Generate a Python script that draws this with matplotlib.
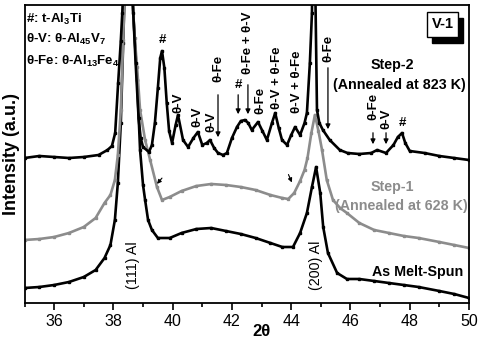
import matplotlib
matplotlib.use("Agg")
import matplotlib.pyplot as plt
from matplotlib.patches import Rectangle

plt.rcParams['font.family'] = ['Liberation Sans', 'DejaVu Sans']
plt.rcParams['mathtext.fontset'] = 'custom'
plt.rcParams['mathtext.rm'] = 'Liberation Sans:bold'
plt.rcParams['mathtext.bf'] = 'Liberation Sans:bold'
plt.rcParams['mathtext.default'] = 'bf'

# --- data (2theta, intensity in arbitrary units) ---
tt_step2 = [35.0, 35.5, 36.0, 36.5, 37.0, 37.5, 37.8, 37.95, 38.06, 38.16, 38.25,
            38.3, 38.4, 38.5, 38.6, 38.67, 38.75, 38.85, 38.92, 39.0, 39.2, 39.3,
            39.4, 39.5, 39.58, 39.64, 39.72, 39.8, 39.88, 39.98, 40.1, 40.18,
            40.35, 40.52, 40.7, 40.85, 41.0, 41.15, 41.26, 41.4, 41.53, 41.7,
            41.83, 42.0, 42.17, 42.3, 42.44, 42.55, 42.67, 42.88, 43.03, 43.18,
            43.35, 43.46, 43.58, 43.69, 43.86, 44.0, 44.13, 44.3, 44.45, 44.53,
            44.63, 44.7, 44.77, 44.82, 44.87, 44.95, 45.07, 45.3, 45.64, 45.9,
            46.3, 46.7, 46.9, 47.2, 47.45, 47.6, 47.74, 47.85, 48.0, 48.5, 49.0,
            49.5, 50.0]
i_step2 = [145, 147, 146, 145, 146, 148, 153, 157, 170, 220, 262,
           290, 360, 450, 360, 290, 240, 185, 165, 156, 151, 158,
           180, 215, 245, 252, 235, 200, 172, 160, 178, 188,
           163, 156, 165, 171, 158, 160, 163, 155, 150, 148,
           150, 165, 176, 182, 183, 180, 173, 181, 172, 163,
           180, 190, 175, 163, 158, 168, 176, 168, 180, 190,
           240, 290, 450, 300, 193, 180, 173, 163, 153, 150,
           149, 150, 153, 150, 158, 166, 170, 160, 152, 150, 147,
           145, 143]

tt_step1 = [35.0, 35.5, 36.0, 36.5, 37.0, 37.4, 37.7, 37.9, 38.05, 38.15, 38.25,
            38.33, 38.4, 38.5, 38.6, 38.65, 38.72, 38.8, 38.9, 39.07, 39.24,
            39.47, 39.64, 39.9, 40.3, 40.8, 41.3, 41.8, 42.3, 42.8, 43.3, 43.7,
            43.9, 44.1, 44.3, 44.45, 44.55, 44.68, 44.8, 44.92, 45.04, 45.2,
            45.41, 45.65, 45.88, 46.3, 46.8, 47.3, 47.8, 48.3, 49.0, 49.5, 50.0]
i_step1 = [63, 64, 66, 70, 76, 85, 100, 108, 123, 148, 193,
           263, 330, 420, 330, 300, 265, 236, 193, 163, 143,
           116, 103, 106, 112, 117, 119, 118, 116, 113, 108, 105,
           104, 110, 122, 133, 145, 170, 188, 172, 153, 123,
           103, 95, 90, 80, 73, 70, 67, 65, 61, 58, 55]

tt_melt = [35.0, 35.5, 36.0, 36.5, 37.0, 37.4, 37.7, 37.9, 38.05, 38.15, 38.25,
           38.33, 38.4, 38.5, 38.6, 38.65, 38.8, 38.9, 39.0, 39.07, 39.17, 39.3,
           39.5, 39.9, 40.3, 40.8, 41.3, 41.8, 42.3, 42.8, 43.3, 43.7, 44.06,
           44.3, 44.53, 44.7, 44.84, 44.98, 45.08, 45.24, 45.55, 45.88, 46.3,
           46.8, 47.3, 47.8, 48.3, 49.0, 49.5, 50.0]
i_melt = [15, 16, 18, 21, 26, 33, 45, 58, 83, 120, 180,
          260, 330, 400, 330, 300, 223, 153, 118, 103, 83, 73,
          65, 65, 70, 74, 75, 72, 69, 65, 60, 56, 56,
          70, 90, 116, 136, 110, 76, 50, 30, 24, 24,
          22, 20, 18, 16, 12, 9, 5]

xticks = [36, 38, 40, 42, 44, 46, 48, 50]

fig = plt.figure(figsize=(4.78, 3.38), dpi=100)
ax = fig.add_axes([24.5 / 478, 35 / 338, 444.5 / 478, 298 / 338])

grey = '#8c8c8c'
line_kw = dict(lw=1.9, marker='s', ms=1.8)
ax.plot(tt_melt, i_melt, color='black', **line_kw)
ax.plot(tt_step1, i_step1, color=grey, **line_kw)
ax.plot(tt_step2, i_step2, color='black', **line_kw)

ax.set_xlim(35, 50)
ax.set_ylim(0, 298)
ax.set_xticks(xticks)
ax.set_xticks(range(35, 51), minor=True)
ax.set_yticks([])
ax.tick_params(axis='x', which='major', direction='out', length=5, width=1.2,
               labelsize=11.5, pad=3, top=False)
ax.tick_params(axis='x', which='minor', direction='out', length=3, width=1.2)
for s in ax.spines.values():
    s.set_linewidth(1.3)

ax.set_ylabel('Intensity (a.u.)', fontsize=13, fontweight='bold', labelpad=3)
ax.set_xlabel('2θ', fontsize=12, fontweight='bold')
ax.xaxis.set_label_coords(0.534, -0.07)

# phase legend in top-left
leg_kw = dict(transform=ax.transAxes, fontsize=9.5, fontweight='bold',
              ha='left', va='center')
ax.text(0.004, 0.952, r'#: t-Al$_3$Ti', **leg_kw)
ax.text(0.004, 0.883, r'θ-V: θ-Al$_{45}$V$_7$', **leg_kw)
ax.text(0.004, 0.812, r'θ-Fe: θ-Al$_{13}$Fe$_4$', **leg_kw)

# sample label box with shadow
ax.add_patch(Rectangle((48.75, 260), 1.05, 25, facecolor='black',
                       edgecolor='black', zorder=5))
ax.add_patch(Rectangle((48.58, 266), 1.05, 25, facecolor='white',
                       edgecolor='black', lw=1.0, zorder=6))
ax.text(49.105, 278.5, 'V-1', fontsize=10.5, fontweight='bold',
        ha='center', va='center', zorder=7)

# curve labels
lab = dict(fontsize=10.3, fontweight='bold', ha='center', va='center')
ax.text(47.40, 238, 'Step-2', **lab)
ax.text(47.66, 218, '(Annealed at 823 K)', **lab)
ax.text(47.40, 116, 'Step-1', color=grey, **lab)
ax.text(47.71, 97, '(Annealed at 628 K)', color=grey, **lab)
ax.text(48.26, 31, 'As Melt-Spun', **lab)
ax.text(38.66, 38, '(111) Al', fontsize=10.3, rotation=90, ha='center', va='center')
ax.text(44.84, 38, '(200) Al', fontsize=10.3, rotation=90, ha='center', va='center')

# peak markers
pk = dict(fontsize=9.5, fontweight='bold', ha='center', va='center')
ax.text(39.64, 263, '#', **pk)
ax.text(47.74, 180, '#', **pk)
ax.text(42.21, 218, '#', **pk)
ax.text(40.18, 200, 'θ-V', rotation=90, **pk)
ax.text(40.82, 186, 'θ-V', rotation=90, **pk)
ax.text(41.29, 181, 'θ-V', rotation=90, **pk)
ax.text(41.53, 235, 'θ-Fe', rotation=90, **pk)
ax.text(42.54, 260, 'θ-Fe + θ-V', rotation=90, **pk)
ax.text(42.95, 203, 'θ-Fe', rotation=90, **pk)
ax.text(43.52, 225, 'θ-V + θ-Fe', rotation=90, **pk)
ax.text(44.20, 221, 'θ-V + θ-Fe', rotation=90, **pk)
ax.text(45.24, 255, 'θ-Fe', rotation=90, **pk)
ax.text(46.76, 197, 'θ-Fe', rotation=90, **pk)
ax.text(47.20, 184, 'θ-V', rotation=90, **pk)

arrows = [(41.53, 211, 163), (42.21, 211, 186), (42.54, 221, 186),
          (45.24, 238, 171), (46.76, 173, 156), (47.20, 173, 156)]
for x, y0, y1 in arrows:
    ax.annotate('', xy=(x, y1), xytext=(x, y0),
                arrowprops=dict(arrowstyle='-|>', color='black', lw=0.9,
                                mutation_scale=7))

# small arrows on Step-1 curve
ax.annotate('', xy=(39.41, 117), xytext=(39.7, 127),
            arrowprops=dict(arrowstyle='-|>', color='black', lw=0.8, mutation_scale=6))
ax.annotate('', xy=(44.06, 118), xytext=(43.87, 131),
            arrowprops=dict(arrowstyle='-|>', color='black', lw=0.8, mutation_scale=6))

fig.savefig('out.png', dpi=100)
